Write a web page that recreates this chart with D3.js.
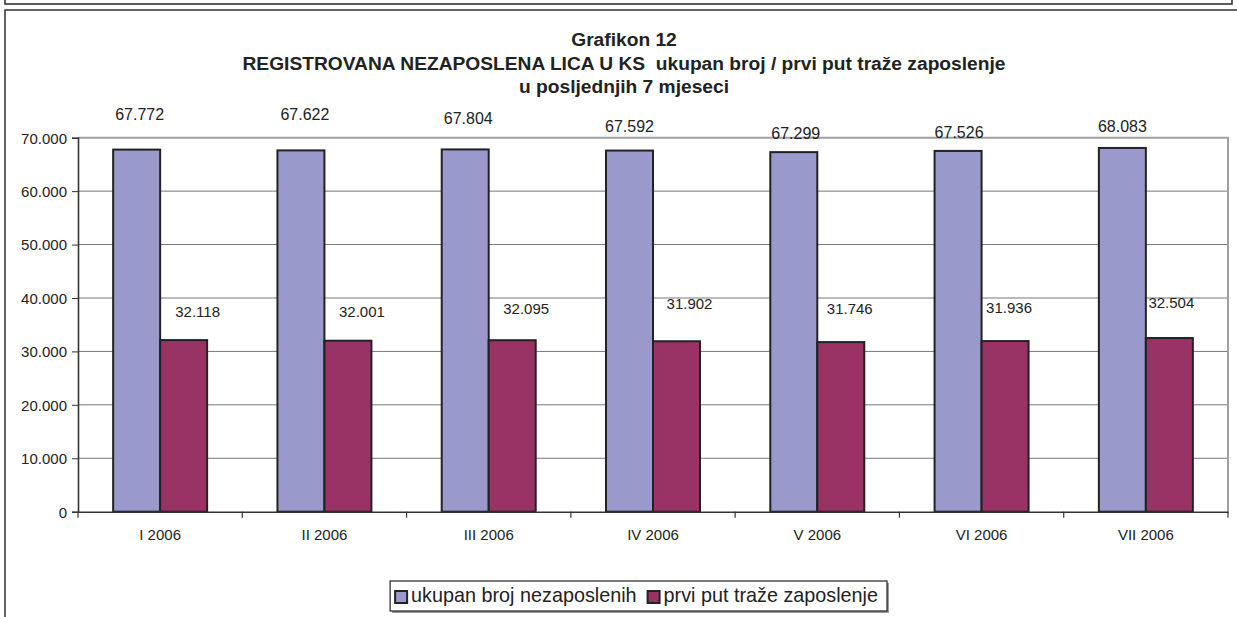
<!DOCTYPE html>
<html><head><meta charset="utf-8">
<script src="https://cdn.jsdelivr.net/npm/d3@7"></script>
<style>body{margin:0;background:#fff}svg{display:block;font-family:"Liberation Sans",Arial,sans-serif}</style>
</head><body>
<svg id="c" width="1237" height="617"></svg>
<script>
const categories = ["I 2006","II 2006","III 2006","IV 2006","V 2006","VI 2006","VII 2006"];
const seriesNames = ["ukupan broj nezaposlenih","prvi put traže zaposlenje"];
const ukupan = [67772,67622,67804,67592,67299,67526,68083];
const prviPut = [32118,32001,32095,31902,31746,31936,32504];
const yTicks = [0,10000,20000,30000,40000,50000,60000,70000];
const titleLines = ["Grafikon 12","REGISTROVANA NEZAPOSLENA LICA U KS  ukupan broj / prvi put traže zaposlenje","u posljednjih 7 mjeseci"];
// label nudges (px) relative to each bar's top / center, as placed in the original
const labelNudgeA = [[3,-30],[4,-30],[3,-25],[0,-19],[2,-13],[1,-13],[0,-16]];
const labelNudgeB = [[14,-23],[14,-24],[14,-26],[13,-32],[9,-28],[4,-28],[2,-30]];

const colors = ["#9999cc","#993366"];
const loc = d3.formatLocale({decimal:",",thousands:".",grouping:[3],currency:["",""]});
const fmt = loc.format(",d");

const svg = d3.select("#c");
// frames
svg.append("rect").attr("x",5).attr("y",-10).attr("width",1227).attr("height",14).attr("fill","none").attr("stroke","#333").attr("stroke-width",1.6);
svg.append("rect").attr("x",5).attr("y",10).attr("width",1260).attr("height",640).attr("fill","none").attr("stroke","#222").attr("stroke-width",1.4);

const L=78,R=1228,T=137.7,B=511.7;
const x = d3.scaleBand().domain(categories).range([L,R]).paddingInner(0).paddingOuter(0);
const xs = d3.scaleBand().domain(seriesNames).range([0,x.bandwidth()]).paddingInner(0).paddingOuter(0.748);
const y = d3.scaleLinear().domain([0,70000]).range([B,T]);

// grid
svg.append("g").selectAll("line").data(yTicks.filter(d=>d>0&&d<70000)).join("line")
  .attr("x1",L).attr("x2",R).attr("y1",d=>y(d)).attr("y2",d=>y(d)).attr("stroke","#777").attr("stroke-width",1);
// plot border top/right
svg.append("path").attr("d",`M${L},${y(70000)}H${R}V${B}`).attr("fill","none").attr("stroke","#a0a0a0").attr("stroke-width",2);

const series=[ukupan,prviPut];
series.forEach((vals,si)=>{
  svg.append("g").selectAll("rect").data(vals).join("rect")
    .attr("x",(d,i)=>x(categories[i])+xs(seriesNames[si]))
    .attr("y",d=>y(d)).attr("width",xs.bandwidth()).attr("height",d=>B-y(d))
    .attr("fill",colors[si]).attr("stroke","#222").attr("stroke-width",2);
});
// axes
const ya = svg.append("g").attr("transform",`translate(${L},0)`).call(d3.axisLeft(y).tickValues(yTicks).tickFormat(d=>fmt(d)).tickSize(6).tickPadding(5));
const xa = svg.append("g").attr("transform",`translate(0,${B})`).call(d3.axisBottom(x).tickSize(0).tickPadding(18));
[ya,xa].forEach(a=>{a.select(".domain").attr("stroke","#333").attr("stroke-width",1.6);a.selectAll("text").attr("font-size",15).attr("fill","#222").attr("font-family","Liberation Sans, Arial, sans-serif");a.selectAll("line").attr("stroke","#333");});
ya.selectAll(".tick text").attr("dy","0.36em");
// category boundary ticks
svg.append("g").selectAll("line").data(d3.range(categories.length+1)).join("line")
  .attr("x1",i=>L+i*x.step()).attr("x2",i=>L+i*x.step()).attr("y1",B).attr("y2",B+6).attr("stroke","#333").attr("stroke-width",1.2);

// data labels
svg.append("g").selectAll("text").data(ukupan).join("text")
  .attr("x",(d,i)=>x(categories[i])+xs(seriesNames[0])+xs.bandwidth()/2+labelNudgeA[i][0])
  .attr("y",(d,i)=>y(d)+labelNudgeA[i][1]).attr("text-anchor","middle").attr("font-size",16).attr("fill","#222").text(d=>fmt(d));
svg.append("g").selectAll("text").data(prviPut).join("text")
  .attr("x",(d,i)=>x(categories[i])+xs(seriesNames[1])+xs.bandwidth()/2+labelNudgeB[i][0])
  .attr("y",(d,i)=>y(d)+labelNudgeB[i][1]).attr("text-anchor","middle").attr("font-size",15).attr("fill","#222").text(d=>fmt(d));

// title
svg.append("g").selectAll("text").data(titleLines).join("text")
  .attr("x",624).attr("y",(d,i)=>46+i*23.5).attr("text-anchor","middle").attr("font-weight","bold").attr("font-size",19.2).attr("fill","#222")
  .attr("xml:space","preserve").style("white-space","pre").text(d=>d);

// legend
const lg = svg.append("g");
const fs=19.8, sq=12;
let cx=0; const items=[];
const tmp = lg.append("text").attr("font-size",fs);
seriesNames.forEach((n,i)=>{tmp.text(n);const w=tmp.node().getComputedTextLength();items.push({n,i,x:cx,w});cx+=sq+4+w+(i<seriesNames.length-1?11:0);});
tmp.remove();
const legW = cx+14, legX = 887-legW, legY=581, legH=30;
lg.append("rect").attr("x",legX+2).attr("y",legY+2).attr("width",legW).attr("height",legH).attr("fill","#999");
lg.append("rect").attr("x",legX).attr("y",legY).attr("width",legW).attr("height",legH).attr("fill","#fff").attr("stroke","#222").attr("stroke-width",1.2);
items.forEach(it=>{
  lg.append("rect").attr("x",legX+5+it.x).attr("y",legY+10).attr("width",sq).attr("height",sq).attr("fill",colors[it.i]).attr("stroke","#222").attr("stroke-width",2);
  lg.append("text").attr("x",legX+5+it.x+sq+4).attr("y",legY+21).attr("font-size",fs).attr("fill","#222").text(it.n);
});
</script>
</body></html>
